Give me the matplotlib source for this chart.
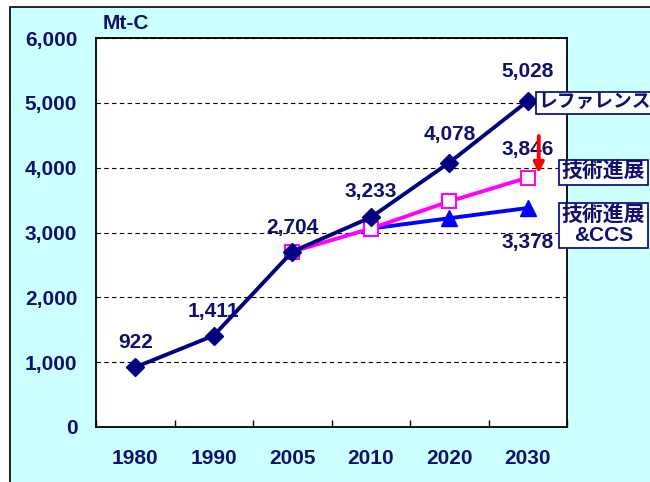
import numpy as np
import matplotlib
matplotlib.use("Agg")
import matplotlib.pyplot as plt
from matplotlib.patches import Rectangle

plt.rcParams['font.family'] = ['Liberation Sans', 'Noto Sans CJK JP', 'DejaVu Sans']

# data
years = ["1980", "1990", "2005", "2010", "2020", "2030"]
reference = [922, 1411, 2704, 3233, 4078, 5028]
tech = [np.nan, np.nan, 2704, 3060, 3480, 3846]
tech_ccs = [np.nan, np.nan, np.nan, 3060, 3220, 3378]
ref_labels = ["922", "1,411", "2,704", "3,233", "4,078", "5,028"]

NAVY = "#000080"
TXT = "#10106e"

fig = plt.figure(figsize=(6.5, 4.82), dpi=100)
fig.patch.set_facecolor("white")
# cyan panel behind the chart
fig.patches.append(Rectangle((10 / 650, -0.01), 1.0, (482 - 7) / 482 + 0.01,
                             transform=fig.transFigure, facecolor="#ccffff",
                             edgecolor="black", linewidth=1.2, zorder=-1))

ax = fig.add_axes([96 / 650, 55 / 482, 471 / 650, 389 / 482])
ax.set_facecolor("white")
x = np.arange(len(years))

ax.plot(x, tech_ccs, color="#0000ff", lw=2.8, marker="^", ms=11,
        markevery=[4, 5], zorder=3)
ax.plot(x, tech, color="#ff00ff", lw=2.8, marker="s", ms=10,
        markerfacecolor="white", markeredgecolor="#ff00ff", mew=1.5, zorder=4)
ax.plot(x, reference, color=NAVY, lw=2.8, marker="D", ms=9, zorder=5)

ax.set_xlim(-0.5, 5.5)
ax.set_ylim(0, 6000)
ax.set_yticks(np.arange(0, 6001, 1000))
ax.set_yticklabels([f"{v:,}" for v in range(0, 6001, 1000)])
ax.yaxis.grid(True, linestyle=(0, (4, 3)), color="black", lw=0.8)
ax.set_axisbelow(True)
ax.tick_params(axis="y", length=0, pad=13.5, labelsize=15, labelcolor=TXT)

# category ticks at boundaries, labels centered
ax.set_xticks(np.arange(-0.5, 5.6, 1.0))
ax.set_xticklabels([])
ax.set_xticks(x, minor=True)
ax.set_xticklabels(years, minor=True)
ax.tick_params(axis="x", which="major", direction="in", length=5, width=1)
ax.tick_params(axis="x", which="minor", length=0, pad=16, labelsize=15,
               labelcolor=TXT)
for lab in ax.get_xticklabels(minor=True) + ax.get_yticklabels():
    lab.set_fontweight("bold")

for sp in ax.spines.values():
    sp.set_color("black")
    sp.set_linewidth(1.3)

# value labels (offsets in points)
offsets = [17.5, 17.5, 17.5, 19, 20, 21]
for xi, v, lab, off in zip(x, reference, ref_labels, offsets):
    ax.annotate(lab, (xi, v), xytext=(0, off), textcoords="offset points",
                ha="center", va="center", fontsize=15, fontweight="bold",
                color=TXT)
ax.annotate("3,846", (5, tech[5]), xytext=(0, 20), textcoords="offset points",
            ha="center", va="center", fontsize=15, fontweight="bold", color=TXT)
ax.annotate("3,378", (5, tech_ccs[5]), xytext=(0, -25), textcoords="offset points",
            ha="center", va="center", fontsize=15, fontweight="bold", color=TXT)

ax.text(-0.41, 6230, "Mt-C", ha="left", va="center", fontsize=15,
        fontweight="bold", color=TXT, clip_on=False)

# red arrow
ax.annotate("", xy=(5.14, 3870), xytext=(5.14, 4530),
            arrowprops=dict(arrowstyle="-|>", color="red", lw=2.8,
                            mutation_scale=15), zorder=6)

# series labels in boxes
box = dict(boxstyle="square,pad=0.12", facecolor="white", edgecolor=NAVY, lw=1.2)
ax.text(5.13, 5000, "レファレンス", ha="left", va="center", fontsize=13.5,
        fontweight="bold", color=TXT, bbox=box, clip_on=False, zorder=7)
ax.text(5.43, 3930, "技術進展", ha="left", va="center", fontsize=15,
        fontweight="bold", color=TXT, bbox=box, clip_on=False, zorder=7)
ax.text(5.43, 3110, "技術進展\n&CCS", ha="left", va="center", fontsize=15,
        fontweight="bold", color=TXT, bbox=box, clip_on=False, zorder=7,
        multialignment="center", linespacing=1.05)

plt.savefig("out.png", dpi=100)
